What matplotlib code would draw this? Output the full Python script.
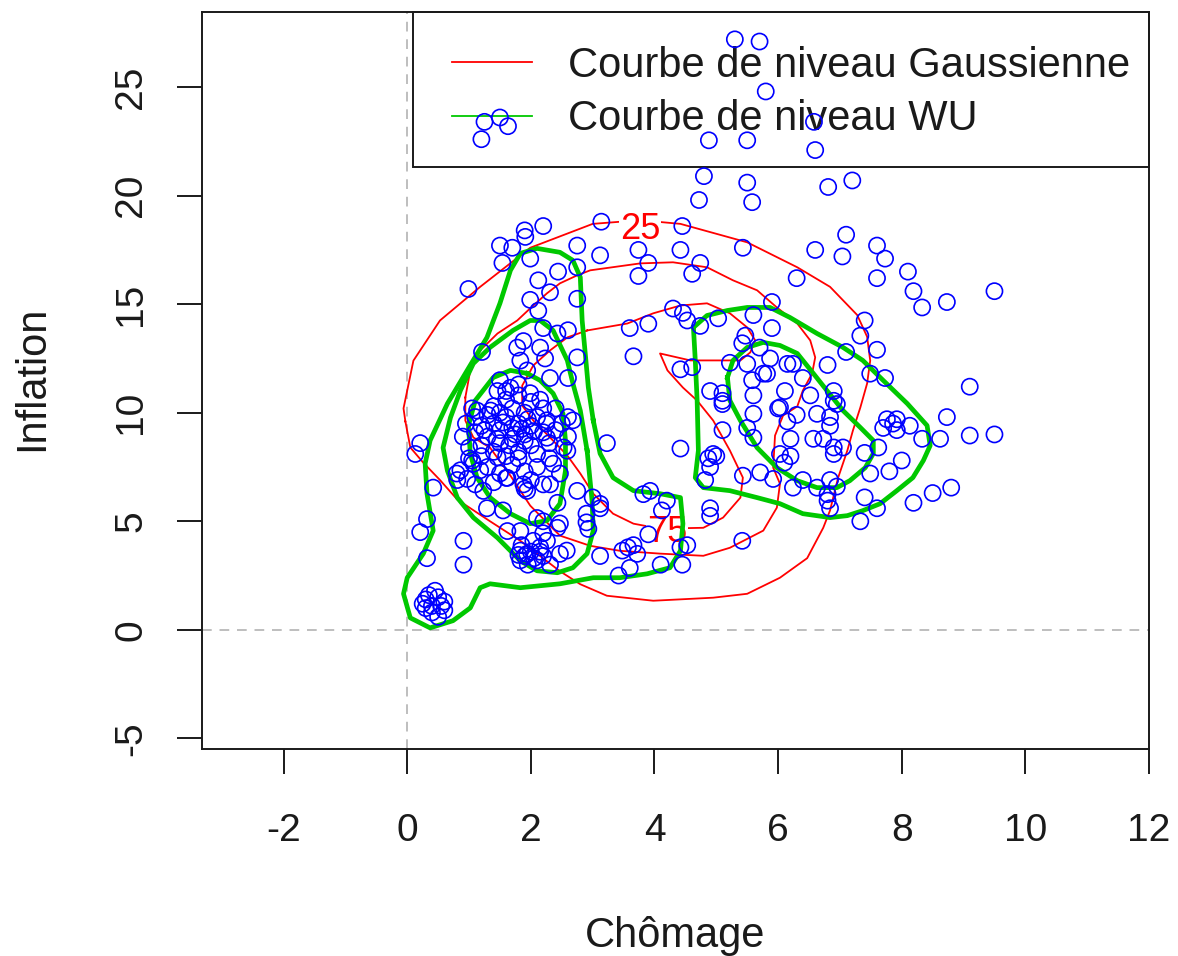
import matplotlib
matplotlib.use('Agg')
import matplotlib.pyplot as plt
from matplotlib.lines import Line2D
from matplotlib.patches import Rectangle
import numpy as np

plt.rcParams['font.family'] = ['Liberation Sans', 'DejaVu Sans']
plt.rcParams['axes.unicode_minus'] = False

pts_top = [(5.3, 27.2), (5.7, 27.1), (5.8, 24.8), (1.2, 22.6), (1.25, 23.4), (1.5, 23.6), (1.63, 23.2),
           (6.58, 23.4), (6.6, 22.1), (4.88, 22.55), (5.5, 22.55), (4.8, 20.9), (5.5, 20.6), (5.58, 19.7),
           (4.72, 19.8), (6.81, 20.4), (7.2, 20.7), (1.9, 18.4), (2.2, 18.6), (3.14, 18.8), (4.45, 18.6),
           (7.1, 18.2)]
pts_right = [(3.74, 17.5), (4.42, 17.5), (3.9, 16.9), (4.74, 16.9), (4.61, 16.4), (3.74, 16.3), (5.43, 17.6),
             (6.6, 17.5), (7.04, 17.2), (7.6, 17.7), (7.73, 17.1), (7.6, 16.2), (8.1, 16.5), (8.19, 15.6),
             (8.33, 14.85), (8.73, 15.1), (9.5, 15.6), (6.3, 16.2), (5.9, 15.1), (4.3, 14.8), (4.46, 14.6),
             (4.53, 14.25), (3.9, 14.1), (3.6, 13.9), (5.03, 14.35), (4.74, 14.0), (5.6, 14.5), (5.9, 13.9),
             (7.4, 14.25), (7.33, 13.55), (7.6, 12.9), (7.1, 12.8), (6.8, 12.2), (7.49, 11.8), (7.73, 11.6),
             (9.1, 11.2), (3.66, 12.6), (4.42, 12.0), (4.61, 12.1), (5.22, 12.3), (5.47, 13.55), (5.42, 13.2),
             (5.7, 13.0), (5.87, 12.5), (5.5, 12.25), (5.76, 11.8), (6.24, 12.25), (6.15, 12.25), (6.4, 11.6),
             (5.58, 11.5), (5.82, 11.8), (4.9, 11.0), (5.1, 10.9), (5.1, 10.55), (5.6, 10.8), (6.11, 11.0),
             (6.52, 10.8), (6.9, 11.0), (6.9, 10.55), (6.0, 10.2), (5.6, 9.95), (6.84, 9.8), (8.73, 9.8),
             (7.76, 9.7), (7.92, 9.7),
             (5.1, 10.4), (6.03, 10.25), (6.15, 9.6), (6.3, 9.9), (6.63, 9.95), (6.84, 9.4), (6.95, 10.4),
             (5.5, 9.3), (5.6, 8.85), (5.1, 9.2), (6.2, 8.8), (6.57, 8.8), (6.73, 8.8), (6.9, 8.4), (7.05, 8.4),
             (6.9, 8.1), (6.03, 8.1), (6.2, 8.0), (6.1, 7.7), (4.95, 8.1), (4.87, 7.9), (5.0, 8.0), (4.42, 8.35),
             (4.9, 7.5), (4.82, 6.9), (5.43, 7.1), (5.71, 7.25), (5.92, 6.95), (6.24, 6.55), (6.4, 6.9),
             (6.63, 6.55), (6.84, 6.9), (6.95, 6.6), (6.8, 5.95), (6.84, 5.6), (6.8, 6.25), (7.49, 7.2),
             (7.8, 7.3), (8.0, 7.8), (7.4, 8.15), (7.62, 8.4), (7.7, 9.3), (7.86, 9.5), (7.92, 9.2), (8.13, 9.4),
             (8.33, 8.8), (8.62, 8.8), (9.1, 8.95), (9.5, 9.0), (7.4, 6.1), (7.6, 5.6), (7.33, 5.0), (8.19, 5.85),
             (8.5, 6.3), (8.8, 6.55)]
pts_middle = [(4.9, 5.6), (4.9, 5.25), (5.42, 4.1), (4.42, 3.8), (4.45, 3.0), (4.1, 3.0), (3.9, 4.4), (4.2, 5.95),
              (3.82, 6.25), (3.93, 6.4), (3.23, 8.6), (2.53, 8.4), (2.75, 6.4), (3.0, 6.1), (3.12, 5.6),
              (2.9, 5.35), (2.9, 4.95), (2.93, 4.65), (2.47, 4.9), (4.12, 5.5), (3.57, 3.8), (3.66, 3.9),
              (3.72, 3.5), (3.48, 3.65), (3.12, 3.4), (3.6, 2.85), (3.42, 2.5), (4.53, 3.9), (2.47, 3.5),
              (2.58, 3.65), (3.12, 5.8), (2.43, 5.85)]
pts_left = [(1.91, 18.1), (1.5, 17.7), (1.7, 17.6), (2.75, 17.7), (1.54, 16.9), (1.99, 17.1), (3.12, 17.25),
            (2.44, 16.5), (2.75, 16.7), (2.12, 16.1), (2.31, 15.55), (0.99, 15.7), (1.99, 15.2), (2.75, 15.25),
            (2.12, 14.7), (2.2, 13.9), (2.6, 13.8), (2.43, 13.65), (1.21, 12.8), (1.88, 13.3), (1.78, 13.0),
            (2.15, 13.0), (2.75, 12.55), (2.23, 12.5), (1.83, 12.4), (1.94, 11.95), (2.31, 11.6), (2.6, 11.6),
            (1.5, 11.5), (1.67, 11.15), (1.46, 11.0), (1.99, 10.9), (2.6, 9.8), (2.26, 9.65), (1.13, 10.1),
            (0.21, 8.6), (0.13, 8.1), (0.42, 6.55), (0.32, 5.1), (0.21, 4.5), (0.32, 3.3), (0.91, 4.1),
            (0.91, 3.0), (0.86, 7.35), (0.81, 6.9), (0.97, 6.95), (1.05, 7.8), (1.23, 6.4), (1.29, 5.6),
            (1.55, 5.5), (1.62, 4.55), (1.83, 4.55), (2.1, 5.15), (2.2, 5.0), (2.43, 4.7), (1.83, 3.65),
            (1.94, 3.5), (2.15, 3.8), (2.26, 4.1), (1.83, 3.2), (2.31, 3.0), (2.1, 3.2), (2.2, 4.45),
            (2.04, 4.1), (2.68, 9.65), (2.26, 8.85), (2.59, 8.25), (2.36, 7.65), (2.47, 7.2), (2.31, 6.7),
            (1.94, 6.4), (1.88, 6.7), (1.62, 7.0), (1.18, 7.35), (1.07, 7.65), (1.46, 7.95),
            (1.9, 3.4), (2.0, 3.6), (2.05, 3.3), (1.85, 3.9), (2.2, 3.4), (1.95, 3.0), (2.15, 3.6), (1.8, 3.45)]
pts_corner = [(0.3, 1.4), (0.4, 1.1), (0.5, 1.5), (0.6, 1.3), (0.4, 0.8), (0.5, 0.6), (0.3, 1.0), (0.6, 0.9),
              (0.45, 1.8), (0.35, 1.6), (0.55, 1.1), (0.25, 1.2)]
pts_core = [(1.3, 9.9), (1.4, 9.5), (1.5, 9.2), (1.6, 9.8), (1.7, 10.2), (1.8, 9.5), (1.9, 9.0), (2.0, 9.4),
            (1.7, 8.8), (1.5, 8.6), (1.3, 8.9), (1.2, 9.4), (1.1, 9.8), (1.4, 10.3), (1.6, 10.6), (1.9, 10.0),
            (2.1, 9.8), (2.2, 9.1), (2.0, 8.5), (1.8, 8.2), (1.6, 8.0), (1.4, 8.2), (1.2, 8.0), (1.0, 8.4),
            (0.9, 8.9), (1.1, 9.1), (1.8, 10.8), (2.0, 10.5), (2.2, 10.2), (1.5, 10.0), (1.9, 8.7), (2.1, 8.1),
            (2.3, 8.6), (1.7, 7.6), (1.9, 7.3), (2.1, 7.5), (1.3, 7.5), (1.5, 7.2), (1.7, 9.3), (1.55, 9.55),
            (1.85, 9.25), (1.95, 9.7), (1.25, 9.2), (1.45, 8.8), (2.05, 9.15), (1.65, 8.5), (1.75, 9.0),
            (1.35, 10.1), (0.95, 9.5), (2.25, 9.5), (1.05, 10.2), (2.15, 10.6), (2.4, 9.2), (2.3, 7.9),
            (1.8, 7.9), (1.6, 7.0), (2.0, 6.9), (2.2, 6.7), (1.9, 6.5), (1.4, 6.8), (1.1, 6.7), (0.8, 7.2),
            (1.0, 7.9), (1.2, 8.5), (1.8, 11.3), (1.6, 11.0), (2.4, 10.2), (2.5, 9.5), (2.6, 8.9)]

# level curves, vertices
gauss_25 = [(-0.03, 9.6), (0.05, 8.4), (0.26, 7.7), (0.53, 6.9), (0.81, 6.0), (1.34, 5.0), (1.83, 4.1),
            (2.47, 2.7), (2.8, 2.1), (3.23, 1.57), (3.98, 1.34), (4.95, 1.48), (5.5, 1.66), (6.03, 2.4),
            (6.47, 3.3), (6.73, 4.7), (6.84, 5.5), (6.97, 7.0), (7.12, 8.26), (7.21, 9.18), (7.33, 10.24),
            (7.44, 11.35), (7.49, 12.4), (7.44, 13.5), (7.28, 14.5), (6.84, 15.8), (6.31, 16.7), (5.5, 17.85),
            (4.42, 18.7), (3.77, 18.87), (3.0, 18.7), (1.99, 17.6), (1.18, 15.8), (0.53, 14.25), (0.1, 12.4),
            (-0.06, 10.2)]
gauss_50 = [(0.94, 10.7), (1.02, 11.95), (1.18, 12.87), (1.46, 13.65), (1.78, 14.25), (1.99, 14.81),
            (2.26, 15.5), (2.47, 15.96), (2.75, 16.33), (2.96, 16.56), (3.77, 16.88), (4.3, 16.93),
            (4.85, 16.7), (5.27, 16.1), (5.66, 15.64), (5.98, 14.85), (6.31, 14.11), (6.52, 13.33),
            (6.6, 12.55), (6.55, 11.81), (6.4, 11.02), (6.31, 10.29), (6.08, 9.87), (5.95, 8.95), (5.92, 7.47),
            (6.03, 6.73), (5.98, 5.63), (5.76, 4.57), (5.22, 3.78), (4.79, 3.41), (4.09, 3.51), (3.44, 3.64),
            (2.96, 3.87), (2.47, 4.34), (1.99, 5.72), (1.67, 7.1), (1.34, 8.39), (1.07, 8.86), (0.94, 9.64)]
gauss_75 = [(2.91, 13.79), (2.59, 13.47), (2.31, 12.87), (2.04, 12.18), (1.86, 11.25), (1.86, 10.33),
            (2.04, 9.64), (2.31, 8.86), (2.59, 8.03), (2.8, 7.2), (3.01, 6.27), (3.33, 5.35), (3.66, 4.89),
            (4.09, 4.66), (4.79, 4.7), (5.11, 5.17), (5.39, 6.09), (5.43, 7.01), (5.22, 8.26), (4.95, 9.64),
            (4.69, 10.56), (4.46, 11.16), (4.21, 11.95), (4.09, 12.73), (4.58, 12.41), (5.39, 12.41),
            (5.55, 12.78), (5.63, 13.33), (5.5, 13.93), (5.22, 14.58), (4.85, 15.04), (4.42, 14.94),
            (3.98, 14.58), (3.56, 14.11)]
wu_left_outer = [(3.01, 9.64), (3.12, 8.12), (3.33, 7.01), (3.66, 6.41), (4.09, 6.27), (4.42, 6.09), (4.46, 4.89),
                 (4.42, 3.64), (4.25, 2.86), (3.88, 2.58), (3.44, 2.4), (3.01, 2.4), (2.47, 2.12), (1.83, 1.94),
                 (1.34, 2.12), (1.18, 1.94), (1.02, 1.01), (0.74, 0.42), (0.37, 0.09), (0.05, 0.55),
                 (-0.06, 1.66), (0.0, 2.4), (0.26, 3.51), (0.42, 4.57), (0.32, 6.27), (0.29, 7.66), (0.37, 8.72),
                 (0.65, 10.42), (0.97, 11.95), (1.29, 13.47), (1.5, 15.04), (1.67, 16.56), (1.83, 17.34),
                 (2.1, 17.57), (2.47, 17.39), (2.68, 17.02), (2.8, 16.24), (2.83, 14.25), (2.88, 12.73),
                 (2.93, 11.16)]
wu_left_mid = [(2.91, 8.26), (2.99, 5.95), (3.01, 4.57), (2.91, 3.51), (2.68, 2.86), (2.43, 2.63), (2.1, 2.72),
               (1.83, 3.18), (1.46, 4.24), (1.07, 5.17), (0.81, 6.09), (0.65, 7.33), (0.58, 8.39), (0.7, 9.78),
               (0.86, 11.02), (1.07, 12.27), (1.34, 13.01), (1.71, 13.79), (1.99, 14.25), (2.15, 14.25),
               (2.36, 13.79), (2.59, 12.41), (2.68, 11.35), (2.8, 10.1)]
wu_left_inner = [(1.94, 11.81), (2.15, 11.49), (2.36, 10.89), (2.52, 9.96), (2.56, 8.72), (2.56, 7.33),
                 (2.47, 5.81), (2.26, 5.03), (1.99, 4.89), (1.67, 5.35), (1.34, 6.09), (1.13, 7.01), (1.02, 8.12),
                 (0.99, 9.41), (1.1, 10.56), (1.39, 11.62), (1.67, 11.95)]
wu_right_outer = [(4.63, 13.93), (4.85, 14.48), (5.18, 14.71), (5.5, 14.85), (5.87, 14.85), (6.19, 14.39),
                  (6.63, 13.65), (7.05, 13.01), (7.37, 12.41), (7.7, 11.49), (8.09, 10.42), (8.41, 9.41),
                  (8.46, 8.49), (8.35, 7.8), (8.18, 7.01), (7.92, 6.41), (7.65, 5.81), (7.37, 5.49), (7.12, 5.26),
                  (6.84, 5.17), (6.4, 5.35), (6.03, 5.81), (5.66, 6.09), (5.22, 6.41), (4.79, 6.55), (4.66, 7.01),
                  (4.71, 8.26), (4.69, 10.56), (4.66, 12.41)]
wu_right_inner = [(5.18, 11.62), (5.27, 12.41), (5.5, 13.01), (5.76, 13.24), (6.03, 13.1), (6.31, 12.73),
                  (6.57, 11.81), (6.79, 11.02), (7.05, 10.1), (7.33, 9.32), (7.54, 8.72), (7.54, 8.12),
                  (7.41, 7.47), (7.16, 6.87), (6.95, 6.55), (6.63, 6.55), (6.31, 6.87), (5.98, 7.47),
                  (5.66, 8.39), (5.39, 9.64), (5.22, 10.56)]

gauss_labels = ['25', '75']
gauss_label_pos = [(3.77, 18.45), (4.2, 4.5)]

x_ticks = [-2, 0, 2, 4, 6, 8, 10, 12]
y_ticks = [-5, 0, 5, 10, 15, 20, 25]
legend_labels = ['Courbe de niveau Gaussienne', 'Courbe de niveau WU']

red = '#ff0000'
green = '#00c800'
blue = '#0000ff'
ink = '#1a1a1a'


def closed(path):
    xs = [p[0] for p in path] + [path[0][0]]
    ys = [p[1] for p in path] + [path[0][1]]
    return xs, ys


fig = plt.figure(figsize=(11.78, 9.56), dpi=100)
ax = fig.add_axes([202 / 1178, 1 - 749 / 956, 947 / 1178, 737 / 956])

ax.axvline(0, color='#bebebe', lw=1.4, ls=(0, (5, 4)), zorder=0)
ax.axhline(0, color='#bebebe', lw=1.4, ls=(0, (5, 4)), zorder=0)

for c in [gauss_25, gauss_50, gauss_75]:
    xs, ys = closed(c)
    ax.plot(xs, ys, color=red, lw=1.3, zorder=2)
for lab, (lx, ly) in zip(gauss_labels, gauss_label_pos):
    ax.text(lx, ly, lab, color=red, fontsize=26, ha='center', va='center', zorder=3,
            bbox=dict(facecolor='white', edgecolor='none', pad=0.5))

for c in [wu_left_outer, wu_left_mid, wu_left_inner, wu_right_outer, wu_right_inner]:
    xs, ys = closed(c)
    ax.plot(xs, ys, color=green, lw=3.4, solid_joinstyle='round', zorder=4)

pts = pts_top + pts_right + pts_middle + pts_left + pts_corner + pts_core
ax.scatter([p[0] for p in pts], [p[1] for p in pts], s=135, facecolors='none',
           edgecolors=blue, linewidths=1.2, zorder=6)

ax.set_xlim(-3.32, 12)
ax.set_ylim(-5.49, 28.46)
ax.set_xticks(x_ticks)
ax.set_yticks(y_ticks)
ax.tick_params(axis='both', direction='out', length=18, width=1.4, labelsize=28, color=ink, labelcolor=ink)
ax.tick_params(axis='x', pad=28)
ax.tick_params(axis='y', pad=20, labelrotation=90)
for lab in ax.get_yticklabels():
    lab.set_va('center')
for s in ax.spines.values():
    s.set_linewidth(1.4)
    s.set_color(ink)

fig.text(675 / 1178, 1 - 936 / 956, 'Chômage', fontsize=30, ha='center', va='center', color=ink)
fig.text(32 / 1178, 1 - 378 / 956, 'Inflation', fontsize=30, ha='center', va='center', rotation=90,
         color=ink)

# legend in the R style: open box in the top right corner
ax.add_patch(Rectangle((0.2228, 0.7897), 0.7772, 0.2103, transform=ax.transAxes, fill=False,
                       edgecolor=ink, lw=1.4, zorder=5, clip_on=False))
handles = [Line2D([], [], color=red, lw=1.3), Line2D([], [], color=green, lw=1.3)]
leg = ax.legend(handles, legend_labels, loc='upper left', bbox_to_anchor=(0.264, 0.9545), borderaxespad=0,
                borderpad=0, fontsize=30, handlelength=1.92, handletextpad=0.86, labelspacing=0.33,
                frameon=False)
for t in leg.get_texts():
    t.set_color(ink)
leg.set_zorder(5)

fig.savefig('out.png', dpi=100)
